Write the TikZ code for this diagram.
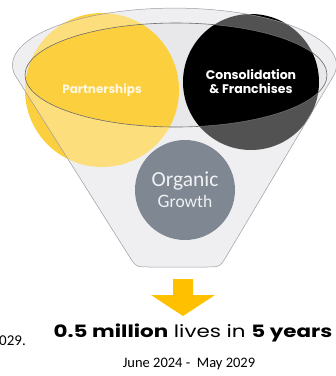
\documentclass[tikz,border=0pt]{standalone}
\usepackage{fontspec}
\setmainfont{Poppins}
\newfontfamily\calibri{Carlito}
\usetikzlibrary{positioning}
\definecolor{partyellow}{HTML}{FCCF3E}
\definecolor{organicgray}{HTML}{7F8793}
\definecolor{arrowyellow}{HTML}{FFC000}
\definecolor{funnelfill}{HTML}{E8E8EB}
\definecolor{rimgray}{HTML}{6B6B6B}
\definecolor{edgegray}{HTML}{9C9CA4}

\begin{document}
\begin{tikzpicture}[x=1pt,y=-1pt,
  bubble/.style={circle, inner sep=0pt, align=center},
  bubbletext/.style={font=\bfseries\fontsize{12.5}{14}\selectfont}]
\useasboundingbox (0,0) rectangle (336,376);
\def\funnel{(15,75) -- (128.5,255.2) .. controls (136,267) .. (150,267)
  -- (206,267) .. controls (220,267) .. (227.2,255) -- (334,75)
  arc[start angle=10, end angle=-190, x radius=162, y radius=57] -- cycle}

% funnel
\fill[funnelfill] \funnel;
\node[bubble, fill=partyellow, minimum size=154pt, text=white!85!partyellow,
  font=\bfseries\fontsize{12}{14}\selectfont] (partnerships) at (102,90)
  {Partnerships};
\node[bubble, fill=black, minimum size=136pt, text=white,
  bubbletext] (consolidation) at (251,82) {Consolidation\\\& Franchises};
\fill[white, fill opacity=0.32, even odd rule] \funnel
  (176,75) ellipse[x radius=151, y radius=52];
\node[bubble, fill=organicgray, minimum size=100pt, text=white!88!organicgray,
  font=\calibri\fontsize{17.5}{21}\selectfont] (organic) at (185,190)
  {{\fontsize{21.5}{21}\selectfont Organic}\\{\fontsize{19}{21}\selectfont G}rowth};
\draw[edgegray, line width=0.5pt] \funnel;
\draw[rimgray, line width=0.6pt] (176,75) ellipse[x radius=151, y radius=52];

% arrow
\fill[arrowyellow] (173,279) -- (193,279) -- (193,295) -- (215,295)
  -- (183,316) -- (151,295) -- (173,295) -- cycle;

% labels
\node[font=\fontsize{17}{18}\selectfont] (lives) at (193,333)
  {\scalebox{1.26}[1]{\textbf{0.5 million} lives in \textbf{5 years}}};
\node[anchor=west, inner sep=0pt, font=\calibri\fontsize{15}{16}\selectfont]
  (year) at (-1,341) {029.};
\node[font=\calibri\fontsize{14.5}{16}\selectfont] (period) at (189,364)
  {June 2024 -\ \ May 2029};
\end{tikzpicture}
\end{document}
